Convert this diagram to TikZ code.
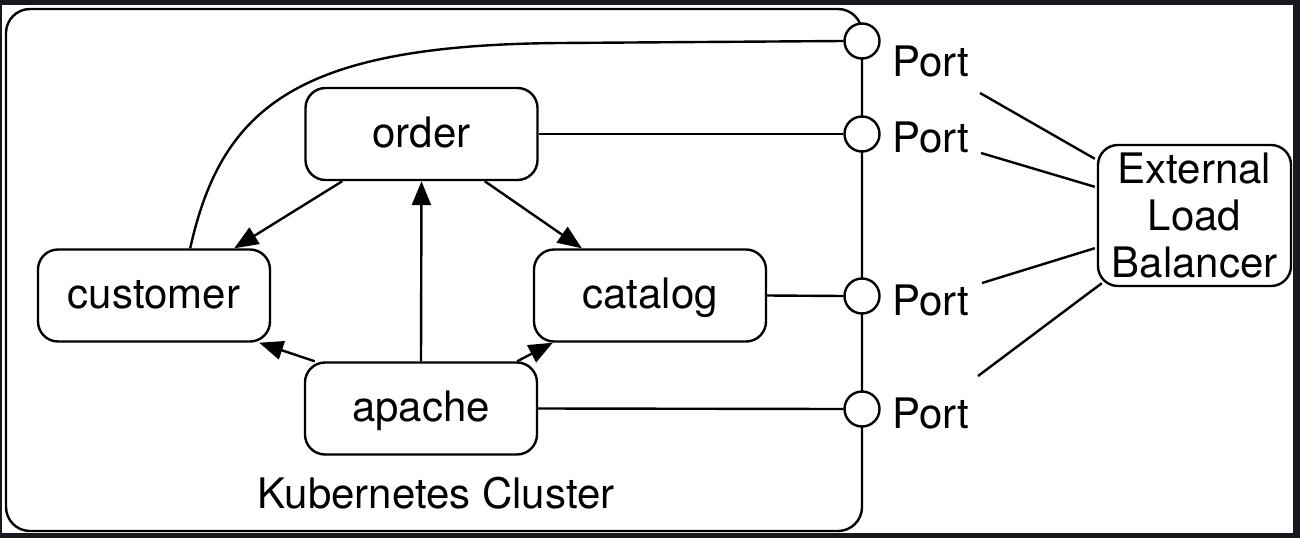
\documentclass[tikz,border=0pt]{standalone}
\usepackage{fontspec}
\setmainfont{TeX Gyre Heros}
\usepackage{tikz}
\usetikzlibrary{calc,arrows.meta,positioning}
\definecolor{framedark}{RGB}{24,24,32}

\begin{document}
\begin{tikzpicture}[x=1pt,y=-1pt,line width=2.4pt,
  every node/.style={font=\fontsize{42}{47}\selectfont},
  svc/.style={draw,rounded corners=20pt,minimum width=232pt,minimum height=92pt,inner sep=0,
    text height=31pt,text depth=5pt},
  port/.style={draw,circle,fill=white,minimum size=35pt,inner sep=0},
  portlabel/.style={anchor=base west,inner sep=0},
  arr/.style={-{Triangle[length=24pt,width=19pt]}}]

% frame
\fill[framedark] (0,0) rectangle (1300,538);
\fill[white] (2,5) rectangle (1293,533);
\useasboundingbox (0,0) rectangle (1300,538);

% cluster
\draw[rounded corners=24pt] (6,9) rectangle (862,531);
\node (k8s) at (436,493) {Kubernetes Cluster};

\node[svc] (order) at (421.5,134) {order};
\node[svc] (customer) at (154,295.5) {customer};
\node[svc] (catalog) at (650,295.5) {catalog};
\node[svc] (apache) at (421,408.5) {apache};

\node[port] (p1) at (862,41) {};
\node[port] (p2) at (862,134) {};
\node[port] (p3) at (862,296) {};
\node[port] (p4) at (862,409) {};

\node[portlabel] (l1) at (891,76) {Port};
\node[portlabel] (l2) at (891,152) {Port};
\node[portlabel] (l3) at (891,315) {Port};
\node[portlabel] (l4) at (891,428) {Port};

\node[draw,rounded corners=20pt,align=center,minimum width=193pt,minimum height=141pt,inner sep=0]
  (lb) at (1194.5,215.5) {External\\Load\\Balancer};

% calls between the services
\draw[arr] ([xshift=38pt]order.south west) -- ([xshift=-37pt]customer.north east);
\draw[arr] ([xshift=-54pt]order.south east) -- ([xshift=49pt]catalog.north west);
\draw[arr] (apache.north) -- (order.south);
\draw[arr] ([xshift=11pt]apache.north west) -- ([xshift=-12pt]customer.south east);
\draw[arr] ([xshift=-21pt]apache.north east) -- ([xshift=20pt]catalog.south west);

% exposed ports
\draw ([xshift=-81pt]customer.north east) .. controls (222,105) and (300,45) .. (560,43) -- (p1.west);
\draw (order.east) -- (p2.west);
\draw (catalog.east) -- (p3.west);
\draw (apache.east) -- (p4.west);

\coordinate (e1) at (980,93);
\coordinate (e2) at (981,153);
\coordinate (e3) at (982,283);
\coordinate (e4) at (978,376);
\draw (e1) -- ($(lb.north west)+(-2,15)$);
\draw (e2) -- ($(lb.north west)+(-2,43)$);
\draw (e3) -- ($(lb.south west)+(-2,-39)$);
\draw (e4) -- ($(lb.south west)+(5,-4)$);

\end{tikzpicture}
\end{document}
